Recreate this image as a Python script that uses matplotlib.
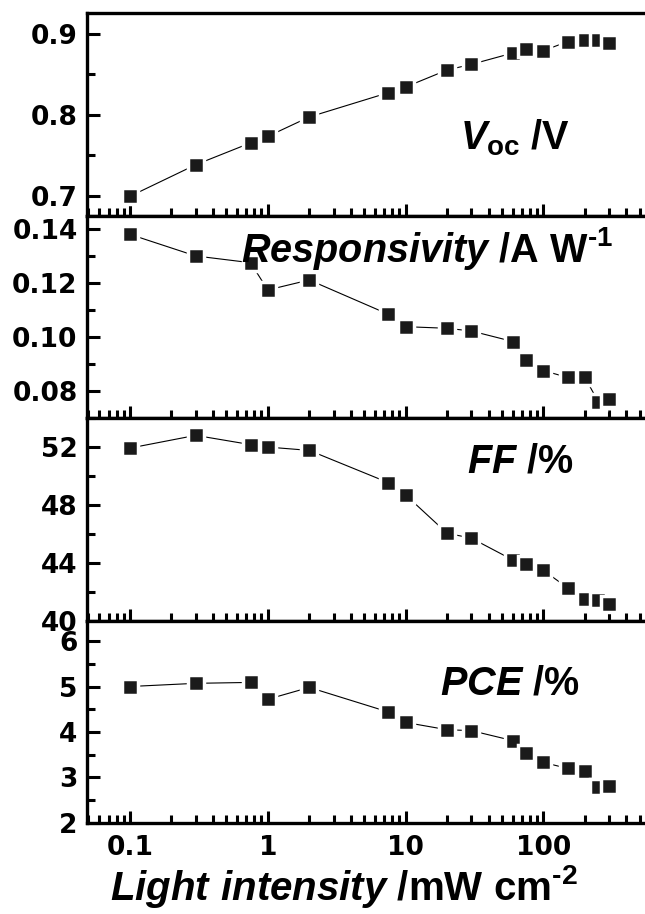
import matplotlib
matplotlib.use('Agg')
import matplotlib.pyplot as plt
from matplotlib.ticker import LogLocator, MultipleLocator, FixedLocator, FixedFormatter, NullFormatter

# Data
intensity = [0.1, 0.3, 0.75, 1, 2, 7.5, 10, 20, 30, 60, 75, 100, 150, 200, 250, 300]
voc = [0.699, 0.738, 0.765, 0.773, 0.797, 0.827, 0.834, 0.855, 0.862, 0.876,
       0.881, 0.879, 0.890, 0.892, 0.892, 0.888]
responsivity = [0.1381, 0.1301, 0.1276, 0.1175, 0.1212, 0.1085, 0.1039, 0.1033,
                0.1023, 0.0984, 0.0916, 0.0876, 0.0851, 0.0851, 0.0761, 0.0771]
ff = [51.93, 52.81, 52.17, 52.0, 51.77, 49.54, 48.69, 46.04, 45.70, 44.19,
      43.93, 43.47, 42.26, 41.50, 41.45, 41.17]
pce = [5.00, 5.07, 5.09, 4.72, 4.98, 4.44, 4.21, 4.05, 4.03, 3.81,
       3.53, 3.33, 3.20, 3.14, 2.79, 2.81]

x_ticks = [0.1, 1, 10, 100]
x_ticklabels = ['0.1', '1', '10', '100']

fam = 'Liberation Sans'
plt.rcParams['font.family'] = [fam, 'DejaVu Sans']
plt.rcParams['font.weight'] = 'bold'
plt.rcParams['mathtext.fontset'] = 'custom'
plt.rcParams['mathtext.it'] = fam + ':italic:bold'
plt.rcParams['mathtext.rm'] = fam + ':bold'
plt.rcParams['mathtext.bf'] = fam + ':bold'

tick_font = dict(family='DejaVu Sans', weight='bold', size=19)

fig, axes = plt.subplots(4, 1, figsize=(6.45, 9.14), dpi=100, sharex=True)
fig.subplots_adjust(left=0.1353, right=1.0, top=0.9854, bottom=0.0996, hspace=0)

panels = [
    (voc, (0.675, 0.925), [0.7, 0.8, 0.9], ['0.7', '0.8', '0.9'], 0.05,
     r'$V_{\mathrm{oc}}$ /V', 0.668, 0.328),
    (responsivity, (0.07, 0.145), [0.08, 0.10, 0.12, 0.14], ['0.08', '0.10', '0.12', '0.14'], 0.01,
     r'$Responsivity$ /A W$^{\text{-1}}$', 0.275, 0.77),
    (ff, (40, 54), [40, 44, 48, 52], ['40', '44', '48', '52'], 2,
     r'$FF$ /%', 0.680, 0.73),
    (pce, (2, 6.45), [2, 3, 4, 5, 6], ['2', '3', '4', '5', '6'], 0.5,
     r'$PCE$ /%', 0.633, 0.634),
]

for ax, (vals, ylim, yt, ytl, yminor, label, tx, ty) in zip(axes, panels):
    ax.plot(intensity, vals, '-', color='black', linewidth=0.8,
            marker='s', markersize=11.5, markerfacecolor='#1a1a1a',
            markeredgecolor='white', markeredgewidth=2.5)
    ax.set_xscale('log')
    ax.set_xlim(0.049, 546)
    ax.set_ylim(*ylim)
    ax.yaxis.set_major_locator(FixedLocator(yt))
    ax.yaxis.set_major_formatter(FixedFormatter(ytl))
    ax.yaxis.set_minor_locator(MultipleLocator(yminor))
    ax.xaxis.set_major_locator(FixedLocator(x_ticks))
    ax.xaxis.set_minor_locator(LogLocator(base=10, subs=range(2, 10), numticks=20))
    ax.xaxis.set_minor_formatter(NullFormatter())
    ax.tick_params(axis='both', which='major', direction='in', length=9, width=2.2,
                   top=False, right=False)
    ax.tick_params(axis='both', which='minor', direction='in', length=5.5, width=2.2,
                   top=False, right=False)
    ax.tick_params(axis='y', pad=7)
    ax.tick_params(axis='x', pad=9)
    for s in ['left', 'bottom', 'top']:
        ax.spines[s].set_linewidth(2.4)
    ax.spines['right'].set_visible(False)
    for t in ax.get_yticklabels():
        t.set(**tick_font)
    ax.text(tx, ty, label, transform=ax.transAxes, fontsize=28.5, fontweight='bold',
            ha='left', va='baseline')

axes[-1].xaxis.set_major_formatter(FixedFormatter(x_ticklabels))
for t in axes[-1].get_xticklabels():
    t.set(**tick_font)

fig.text(0.1705, 0.0150, r'$Light\ intensity$ /mW cm$^{\text{-2}}$', fontsize=29,
         fontweight='bold', ha='left', va='baseline')

fig.savefig('out.png', dpi=100)
